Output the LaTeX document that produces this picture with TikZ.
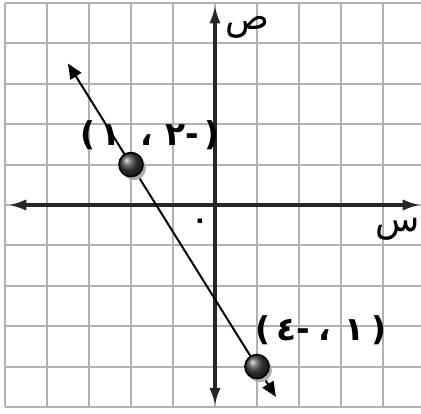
\documentclass[tikz,border=0pt]{standalone}
\usepackage{fontspec}
\newfontfamily\arabicfont[Script=Arabic]{DejaVu Sans}
\newfontfamily\plainfont{DejaVu Sans}
\usetikzlibrary{arrows.meta,calc}

\newcommand{\ag}[1]{\hbox{#1}}
\newcommand{\pg}[1]{\hbox{\plainfont #1}}

\begin{document}
\begin{tikzpicture}[x=1.26cm, y=1.212cm,
  gridline/.style={gray!60, line width=0.55mm},
  axis/.style={black!85, line width=1.4mm,
               {Latex[length=5.5mm,width=3.4mm]}-{Latex[length=5.5mm,width=3.4mm]}},
  graphline/.style={black, line width=0.6mm,
               {Triangle[length=4.5mm,width=3.8mm]}-{Triangle[length=4.5mm,width=3.8mm]}},
  pointdot/.style={circle, minimum size=7.2mm, inner sep=0pt, draw=black,
                   line width=0.5mm, shading=ball, ball color=black!75},
  dotshadow/.style={circle, minimum size=7.2mm, inner sep=0pt, fill=gray!65},
  axlbl/.style={font=\arabicfont\fontsize{31}{33}\selectfont, inner sep=0pt},
  ptlbl/.style={font=\arabicfont\bfseries\fontsize{28}{30}\selectfont, inner sep=0pt}
]
  \useasboundingbox (-5.119,-5.173) rectangle (4.905,5.074);

  % Grid
  \draw[gridline, step=1] (-5,-5) grid (4.905,5);

  % Axes
  \draw[axis] (-4.93,0) -- (4.905,0);
  \draw[axis] (0,-4.98) -- (0,4.95);
  \node[axlbl] (ylbl) at (0.77,4.4) {ص};
  \node[axlbl] (xlbl) at (4.36,-0.6) {س};
  \node[font=\arabicfont\bfseries\fontsize{22}{24}\selectfont, inner sep=0pt] (orig) at (-0.36,-0.47) {٠};

  % Points
  \coordinate (p1) at (-2,1);
  \coordinate (p2) at (1,-4);
  \coordinate (ltop) at ($(p1)!-0.5!(p2)$);
  \coordinate (lbot) at ($(p1)!1.15!(p2)$);

  % Line
  \draw[graphline] (ltop) -- (lbot);

  % Dots
  \node[dotshadow] at ($(p1)+(0.07,-0.09)$) {};
  \node[pointdot] (d1) at (p1) {};
  \node[dotshadow] at ($(p2)+(0.07,-0.09)$) {};
  \node[pointdot] (d2) at (p2) {};

  % Labels
  \node[ptlbl] (l1) at (-1.55,1.73)
    {\pg{(}\hspace{1.5mm}\ag{١}\hspace{6mm}\ag{،}\hspace{4mm}\ag{٢}\pg{-}\hspace{1.5mm}\pg{)}};
  \node[ptlbl] (l2) at (2.52,-3.09)
    {\pg{(}\hspace{2mm}\ag{٤}\pg{-}\hspace{2.5mm}\ag{،}\hspace{4mm}\ag{١}\hspace{2mm}\pg{)}};
\end{tikzpicture}
\end{document}
